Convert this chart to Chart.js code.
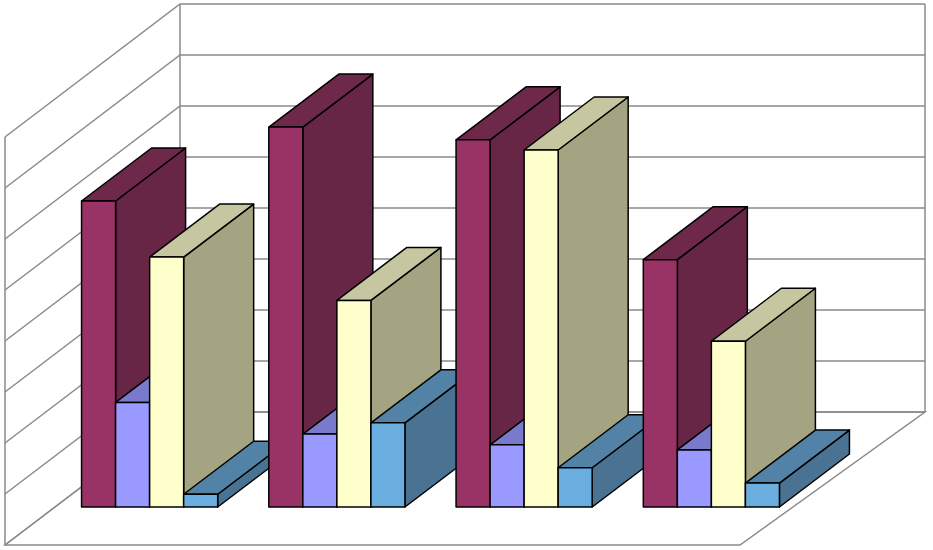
<!DOCTYPE html>
<html>
<head>
<meta charset="utf-8">
<script src="https://cdn.jsdelivr.net/npm/chart.js@4"></script>
<style>
  html, body { margin: 0; background: #fff; }
  #wrap { width: 933px; height: 550px; }
</style>
</head>
<body>
<div id="wrap"><canvas id="c"></canvas></div>
<script>
const categories = ['1', '2', '3', '4']
const series1 = [6.0, 7.45, 7.2, 4.85]
const series2 = [2.05, 1.43, 1.22, 1.12]
const series3 = [4.9, 4.05, 7.0, 3.25]
const series4 = [0.25, 1.65, 0.77, 0.47]
const gridValues = [0, 1, 2, 3, 4, 5, 6, 7, 8]

const faces = [
  { front: '#993366', side: '#682646', top: '#6e2849' },
  { front: '#9999ff', side: '#7474c4', top: '#7a7acc' },
  { front: '#ffffcc', side: '#a4a482', top: '#c6c6a0' },
  { front: '#6aaedf', side: '#4a7292', top: '#5282a6' }
]

const DX = 70, DY = -53

const poly = (ctx, pts, fill) => {
  ctx.beginPath()
  ctx.moveTo(pts[0][0], pts[0][1])
  pts.slice(1).forEach(p => ctx.lineTo(p[0], p[1]))
  ctx.closePath()
  ctx.fillStyle = fill
  ctx.fill()
  ctx.stroke()
}

const walls = {
  id: 'walls',
  beforeDatasetsDraw(chart) {
    const ctx = chart.ctx
    const y = chart.scales.y
    const unit = y.getPixelForValue(0) - y.getPixelForValue(1)
    const fx = 5, fy0 = 545, bx = 180, by0 = 412, bxr = 925, fxr = 740
    ctx.save()
    ctx.strokeStyle = '#8a8a8a'
    ctx.lineWidth = 1.5
    // floor
    ctx.beginPath()
    ctx.moveTo(fx, fy0); ctx.lineTo(bx, by0); ctx.lineTo(bxr, by0); ctx.lineTo(fxr, fy0); ctx.closePath()
    ctx.stroke()
    // left wall edges
    ctx.beginPath()
    ctx.moveTo(fx, fy0); ctx.lineTo(fx, fy0 - 8 * unit)
    ctx.moveTo(bxr, by0); ctx.lineTo(bxr, by0 - 8 * unit)
    ctx.moveTo(bx, by0); ctx.lineTo(bx, by0 - 8 * unit)
    ctx.stroke()
    gridValues.forEach(v => {
      const d = v * unit
      ctx.beginPath()
      ctx.moveTo(fx, fy0 - d); ctx.lineTo(bx, by0 - d); ctx.lineTo(bxr, by0 - d)
      ctx.stroke()
    })
    ctx.restore()
  },
  afterDatasetsDraw(chart) {
    const ctx = chart.ctx
    ctx.save()
    ctx.strokeStyle = '#000'
    ctx.lineWidth = 1.5
    ctx.lineJoin = 'round'
    categories.forEach((c, i) => {
      chart.data.datasets.forEach((ds, d) => {
        const bar = chart.getDatasetMeta(d).data[i]
        const { x, y, base, width } = bar.getProps(['x', 'y', 'base', 'width'], true)
        const l = x - width / 2, r = x + width / 2
        const f = faces[d]
        poly(ctx, [[r, y], [r + DX, y + DY], [r + DX, base + DY], [r, base]], f.side)
        poly(ctx, [[l, y], [l + DX, y + DY], [r + DX, y + DY], [r, y]], f.top)
        poly(ctx, [[l, y], [r, y], [r, base], [l, base]], f.front)
      })
    })
    ctx.restore()
  }
}

const seriesList = [series1, series2, series3, series4]

new Chart(document.getElementById('c'), {
  type: 'bar',
  data: {
    labels: categories,
    datasets: seriesList.map((s, k) => ({
      label: 'Series ' + (k + 1),
      data: s,
      backgroundColor: 'rgba(0,0,0,0)',
      categoryPercentage: 0.727,
      barPercentage: 1
    }))
  },
  options: {
    responsive: true,
    maintainAspectRatio: false,
    animation: false,
    layout: { padding: { left: 56, right: 128, top: 99, bottom: 43 } },
    plugins: { legend: { display: false }, tooltip: { enabled: false } },
    scales: {
      x: { display: false },
      y: { display: false, min: 0, max: 8 }
    }
  },
  plugins: [walls]
})
</script>
</body>
</html>
